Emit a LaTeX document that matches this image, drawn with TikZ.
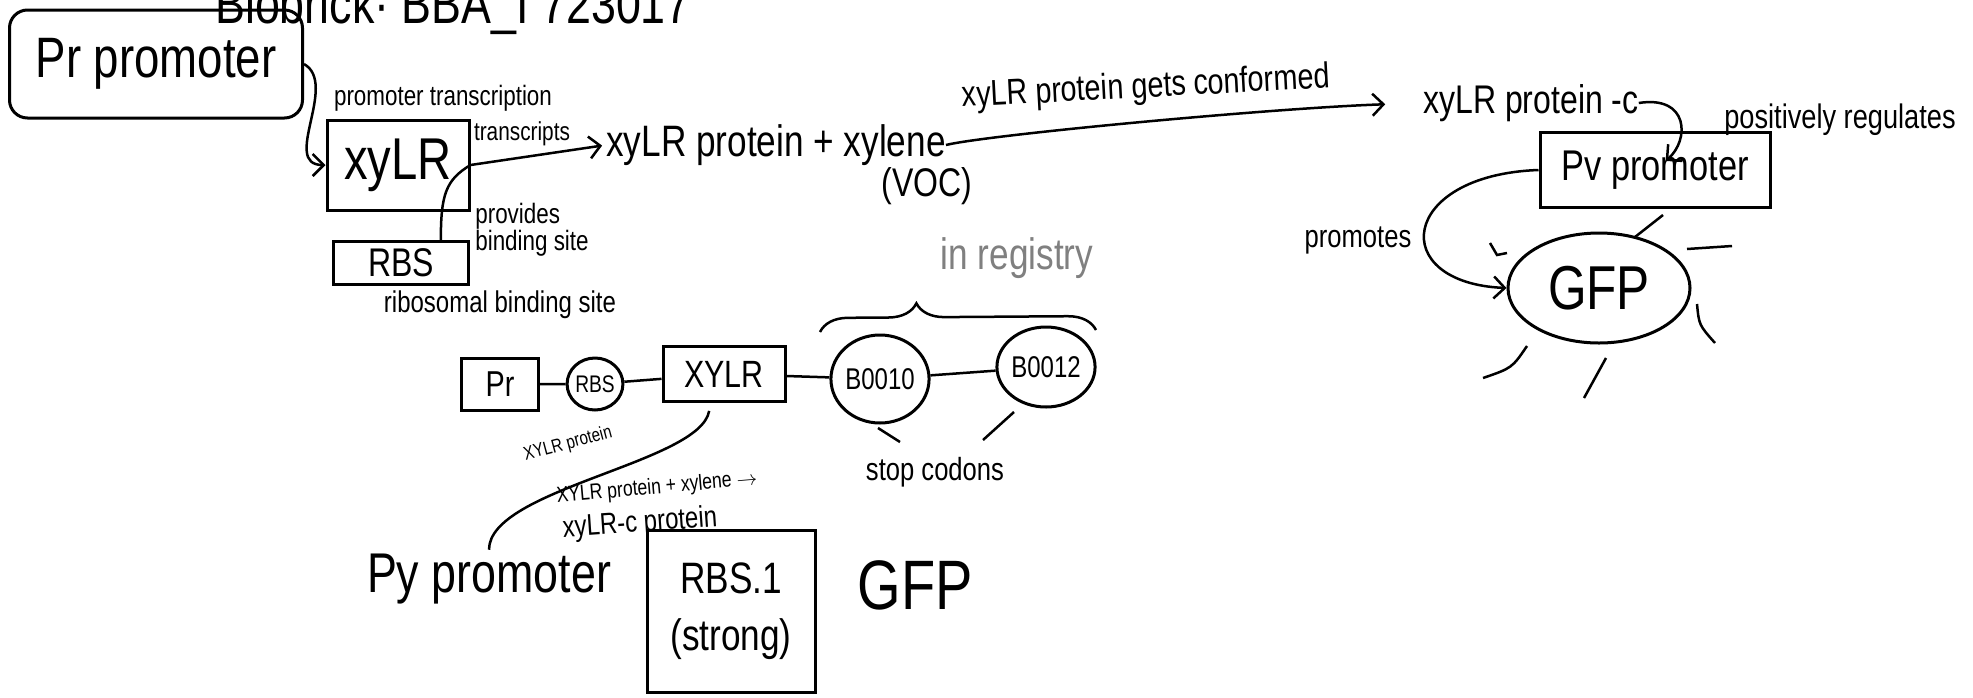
\documentclass[tikz,border=0pt]{standalone}
\usepackage{fontspec}
\newfontfamily\hand[FakeStretch=0.8]{Liberation Sans}
\usetikzlibrary{positioning,arrows.meta,shapes.geometric,decorations.pathreplacing}

\begin{document}
\begin{tikzpicture}[x=1pt,y=1pt,txt/.style={inner sep=0pt,font=\hand\fontsize{#1}{#1}\selectfont},box/.style={draw,line width=3pt,rectangle,inner sep=0pt},blob/.style={draw,line width=3pt,ellipse,inner sep=0pt},arrow/.style={-{Straight Barb[length=11pt,width=22pt]},line width=2.5pt},line/.style={line width=2.5pt}]
\useasboundingbox (0,0) rectangle (1973,-697);
\fill[white] (0,0) rectangle (1973,-697);
\begin{scope}
\clip (0,0) rectangle (1973,-697);
\node[txt=56,anchor=base west] (brick) at (215,-23) {Biobrick· BBA\_I 723017};
\end{scope}
% first sketch
\node[box,rounded corners=18pt,minimum width=293pt,minimum height=108pt,txt=57] (pr) at (156,-64) {Pr promoter};
\node[box,minimum width=142pt,minimum height=90pt,txt=59] (xylr) at (398,-165) {xyLR};
\node[box,minimum width=135pt,minimum height=43pt,txt=40] (rbs) at (401,-263) {RBS};
\node[txt=30] (ribo) at (500,-305) {ribosomal binding site};
\node[txt=28,align=left,font=\hand\fontsize{28}{24}\selectfont] (prov) at (532,-230) {provides\\binding site};
\node[txt=28] (trans) at (443,-98) {promoter transcription};
\node[txt=26] (tscr) at (522,-134) {transcripts};
\node[txt=44] (prot) at (776,-145) {xyLR protein + xylene};
\node[txt=40] (voc) at (927,-186) {(VOC)};
\node[txt=36,rotate=3] (conf) at (1146,-88) {xyLR protein gets conformed};
\node[txt=40] (protc) at (1531,-103) {xyLR protein -c};
\node[txt=34] (posreg) at (1840,-120) {positively regulates};
\node[box,minimum width=230pt,minimum height=75pt,txt=43] (pv) at (1655,-170) {Pv promoter};
\node[blob,minimum width=182pt,minimum height=110pt,txt=62] (gfp) at (1599,-288) {GFP};
\node[txt=32] (prom) at (1358,-240) {promotes};
\draw[arrow] (pr.east) .. controls +(35,-20) and +(-45,0) .. (xylr.west);
\draw[arrow,shorten >=4pt] (xylr.east) -- (prot.west);
\draw[line] (rbs.30) .. controls +(0,45) and +(-25,-15) .. (xylr.east);
\draw[arrow,shorten >=38pt] (prot.east) .. controls +(40,10) and +(-150,-5) .. (protc.west);
\draw[arrow,shorten >=14pt] (protc.east) .. controls +(50,8) and +(35,30) .. (pv.center);
\draw[arrow] (pv.west) .. controls +(-140,-5) and +(-120,5) .. (gfp.west);
% glow
\draw[line] (1490,-243) -- (1497,-255) -- (1507,-253);
\draw[line] (1635,-237) -- (1663,-215);
\draw[line] (1687,-249) -- (1732,-246);
\draw[line] (1697,-304) .. controls (1699,-325) .. (1715,-343);
\draw[line] (1527,-346) .. controls (1512,-368) .. (1483,-378);
\draw[line] (1606,-358) -- (1584,-398);
% part chain
\node[box,minimum width=77pt,minimum height=52pt,txt=36] (prs) at (500,-384) {Pr};
\node[blob,minimum width=55pt,minimum height=52pt,txt=24] (rbss) at (595,-384) {RBS};
\node[box,minimum width=122pt,minimum height=55pt,txt=38] (xylrs) at (724,-374) {XYLR};
\node[blob,minimum width=93pt,minimum height=88pt,txt=30] (bten) at (880,-379) {B0010};
\node[blob,minimum width=95pt,minimum height=80pt,txt=30] (btwelve) at (1046,-367) {B0012};
\node[txt=44,text=gray] (reg) at (1017,-258) {in registry};
\node[txt=32] (stop) at (935,-472) {stop codons};
\node[txt=56] (py) at (489,-579) {Py promoter};
\node[box,minimum width=168pt,minimum height=162pt,txt=44,align=center,font=\hand\fontsize{44}{57}\selectfont] (rbsone) at (731,-611) {RBS.1\\(strong)};
\node[txt=70] (gfpb) at (915,-585) {GFP};
\node[txt=19,rotate=15] (lab1) at (568,-444) {XYLR protein};
\node[txt=22,rotate=5] (lab2) at (657,-488) {XYLR protein + xylene $\rightarrow$};
\node[txt=30,rotate=4] (lab3) at (640,-524) {xyLR-c protein};
\draw[line] (prs) -- (rbss) -- (xylrs) -- (bten) -- (btwelve);
\draw[line,decorate,decoration={brace,amplitude=28pt,aspect=0.35}] (820,-332) -- (1096,-330);
\draw[line] (878,-428) -- (900,-442);
\draw[line] (1014,-412) -- (983,-440);
\draw[line,shorten <=8pt,shorten >=4pt] (xylrs.-115) .. controls +(-10,-60) and +(0,65) .. (py.north);
\end{tikzpicture}
\end{document}
